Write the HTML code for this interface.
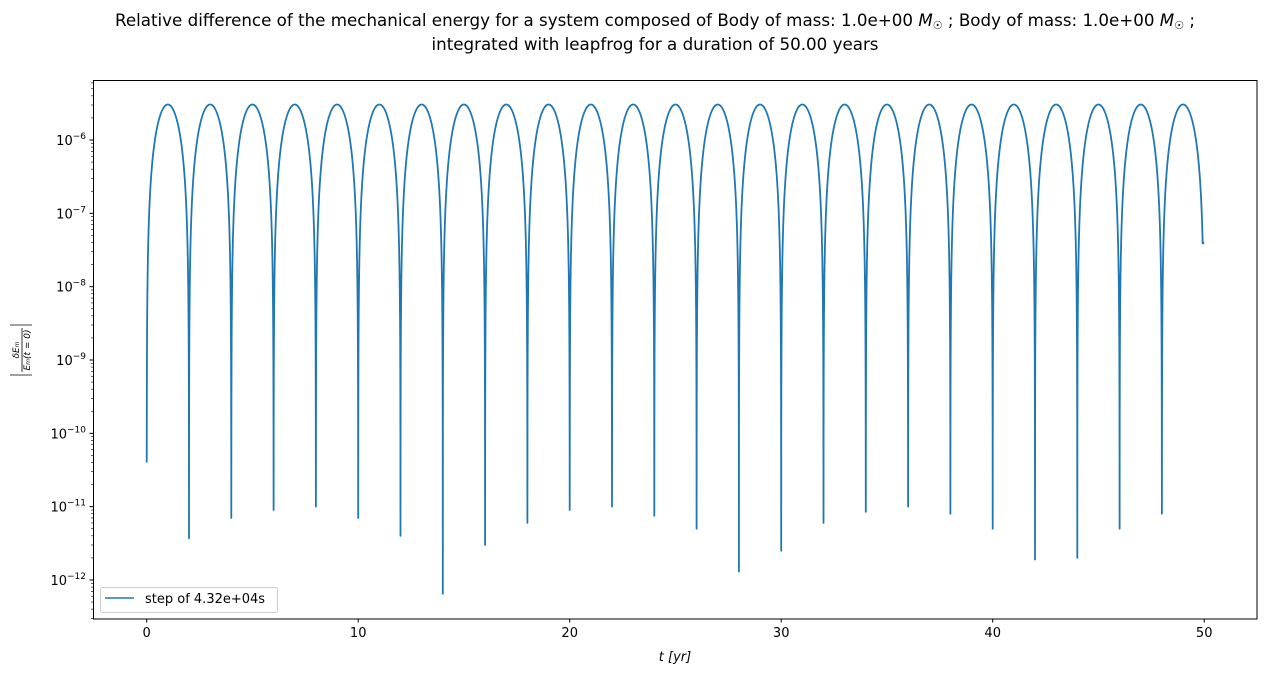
<!DOCTYPE html>
<html><head><meta charset="utf-8"><style>
body{margin:0;background:#fff;}
svg{display:block;font-family:"DejaVu Sans","Liberation Sans",sans-serif;}
</style></head><body>
<svg id="s" width="1265" height="676" xmlns="http://www.w3.org/2000/svg">
<text x="655" y="26" font-size="16.7" text-anchor="middle">Relative difference of the mechanical energy for a system composed of Body of mass: 1.0e+00 <tspan font-style="italic">M</tspan><tspan font-size="11" dy="3">☉</tspan><tspan dy="-3"> ; Body of mass: 1.0e+00 </tspan><tspan font-style="italic">M</tspan><tspan font-size="11" dy="3">☉</tspan><tspan dy="-3"> ;</tspan></text>
<text x="655" y="50" font-size="16.7" text-anchor="middle">integrated with leapfrog for a duration of 50.00 years</text>
<g id="g"></g>
<rect x="93.5" y="80.5" width="1163.5" height="538.5" fill="none" stroke="#000" stroke-width="1"/>
<text x="675" y="661" font-size="13" text-anchor="middle" font-style="italic">t [yr]</text>
<g transform="translate(22,350) rotate(-90)" font-size="9" text-anchor="middle" font-style="italic">
<text x="0" y="-3">δE<tspan font-size="6">m</tspan></text>
<line x1="-22" y1="0" x2="22" y2="0" stroke="#000" stroke-width="0.8"/>
<text x="0" y="8">E<tspan font-size="6">m</tspan>(t = 0)</text>
<line x1="-25" y1="-12" x2="-25" y2="10" stroke="#000" stroke-width="0.8"/>
<line x1="25" y1="-12" x2="25" y2="10" stroke="#000" stroke-width="0.8"/>
</g>
<rect x="100.5" y="587.5" width="177" height="25" rx="2" fill="#fff" fill-opacity="0.8" stroke="#ccc"/>
<line x1="105" y1="598" x2="134" y2="598" stroke="#1f77b4" stroke-width="1.5"/>
<text x="145" y="603" font-size="13">step of 4.32e+04s</text>
</svg>
<script>
var g=document.getElementById('g'),h='';
function X(t){return 146.7+t*21.15;}
function Y(v){return 140-(Math.log10(v)+6)*73.33;}
for(var t=0;t<=50;t+=10){var x=X(t);h+='<line x1="'+x+'" y1="619" x2="'+x+'" y2="622.5" stroke="#000"/><text x="'+x+'" y="637" font-size="13" text-anchor="middle">'+t+'</text>';}
for(var e=-13;e<=-5;e++){for(var m=1;m<10;m++){var y=Y(m*Math.pow(10,e));if(y<80||y>619)continue;
 if(m==1){h+='<line x1="93" y1="'+y+'" x2="89.5" y2="'+y+'" stroke="#000"/><text x="86" y="'+(y+5)+'" font-size="13" text-anchor="end">10<tspan font-size="9" dy="-6">−'+(-e)+'</tspan></text>';}
 else h+='<line x1="93" y1="'+y+'" x2="91" y2="'+y+'" stroke="#000" stroke-width="0.6"/>';}}
var dips={0:4e-11,2:3.7e-12,4:7e-12,6:9e-12,8:1e-11,10:7e-12,12:4e-12,14:6.5e-13,16:3e-12,18:6e-12,20:9e-12,22:1e-11,24:7.5e-12,26:5e-12,28:1.3e-12,30:2.5e-12,32:6e-12,34:8.5e-12,36:1e-11,38:8e-12,40:5e-12,42:1.9e-12,44:2e-12,46:5e-12,48:8e-12};
var d='',st=0.004;
for(var k=0;k<50;k+=2){
 var pts=[[k,dips[k]]];
 var end=(k==48)?49.93:k+2-st/2;
 for(var t=k+st;t<end;t+=st){var v=3.05e-6*Math.pow(Math.sin(Math.PI*t/2),2);pts.push([t,Math.max(v,dips[k]*1.5)]);}
 pts.forEach(function(p){d+=(d?'L':'M')+X(p[0]).toFixed(2)+','+Y(p[1]).toFixed(2);});
}
d+='L'+X(50).toFixed(2)+','+Y(4e-8).toFixed(2);
h+='<path d="'+d+'" fill="none" stroke="#1f77b4" stroke-width="1.8" stroke-linejoin="round"/>';
g.innerHTML=h;
</script>
</body></html>
